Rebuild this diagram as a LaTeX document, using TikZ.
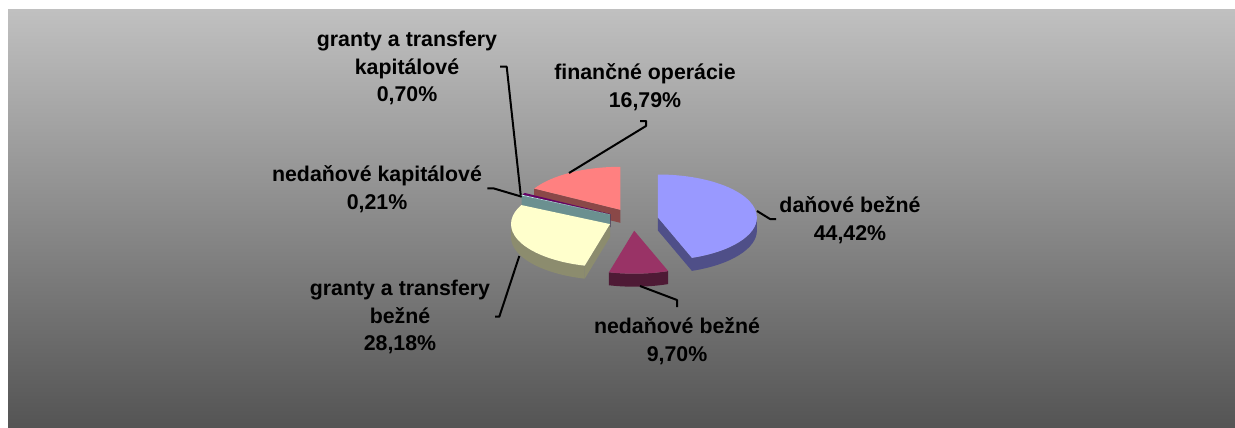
\documentclass[tikz,border=0pt]{standalone}
\usepackage{fontspec}
\setmainfont{Liberation Sans}
\definecolor{bgtop}{HTML}{C0C0C0}
\definecolor{bgbot}{HTML}{545454}
\definecolor{dantop}{HTML}{9999FF}
\definecolor{danside}{HTML}{4F4F88}
\definecolor{nbeztop}{HTML}{993366}
\definecolor{nbezside}{HTML}{4E1A35}
\definecolor{gbeztop}{HTML}{FFFFCC}
\definecolor{gbezside}{HTML}{8C8C6E}
\definecolor{nkaptop}{HTML}{CCFFFF}
\definecolor{nkapside}{HTML}{6B9090}
\definecolor{gkaptop}{HTML}{660066}
\definecolor{gkapside}{HTML}{330033}
\definecolor{fintop}{HTML}{FF8080}
\definecolor{finside}{HTML}{8A4848}
\begin{document}
\begin{tikzpicture}[x=0.75pt,y=-0.75pt,
  lbl/.style={font=\bfseries\fontsize{16}{20.6}\selectfont,align=center,inner sep=0pt},
  leader/.style={line width=1.5pt,line join=round}]
\useasboundingbox (0,0) rectangle (1235,428);
\shade[top color=bgtop,bottom color=bgbot] (8,10) rectangle (1235,428);

% finančné operácie
\begin{scope}[shift={(620.3,209.8)}]
 \fill[color=finside] (0,0) -- (209.6:99 and 43) -- ++(0,13) -- (0,13) -- cycle;
 \fill[color=fintop] (0,0) -- (209.6:99 and 43) arc[start angle=209.6,end angle=270,x radius=99,y radius=43] -- cycle;
\end{scope}
% granty a transfery kapitálové
\begin{scope}[shift={(610.7,214.2)}]
 \fill[color=gkapside] (0,0) -- (207.1:99 and 43) -- ++(0,13) -- (0,13) -- cycle;
 \fill[color=gkaptop] (0,0) -- (207.1:99 and 43) arc[start angle=207.1,end angle=209.6,x radius=99,y radius=43] -- cycle;
\end{scope}
% nedaňové kapitálové
\begin{scope}[shift={(610.4,214.5)}]
 \fill[color=nkapside] (0,0) -- (206.3:99 and 43) -- ++(0,13) -- (0,13) -- cycle;
 \fill[color=nkaptop] (0,0) -- (206.3:99 and 43) arc[start angle=206.3,end angle=207.1,x radius=99,y radius=43] -- cycle;
\end{scope}
% daňové bežné
\begin{scope}[shift={(657.9,217.5)}]
 \fill[color=danside] (0,0) -- (69.9:99 and 43) -- ++(0,13) -- (0,13) -- cycle;
 \fill[color=danside] (0:99 and 43) arc[start angle=0,end angle=69.9,x radius=99,y radius=43] -- ++(0,13) arc[start angle=69.9,end angle=0,x radius=99,y radius=43] -- cycle;
 \fill[color=dantop] (0,0) -- (-90:99 and 43) arc[start angle=-90,end angle=69.9,x radius=99,y radius=43] -- cycle;
\end{scope}
% granty a transfery bežné
\begin{scope}[shift={(610.0,224.1)}]
 \fill[color=gbezside] (0,0) -- (104.8:99 and 43) -- ++(0,13) -- (0,13) -- cycle;
 \fill[color=gbezside] (104.8:99 and 43) arc[start angle=104.8,end angle=180,x radius=99,y radius=43] -- ++(0,13) arc[start angle=180,end angle=104.8,x radius=99,y radius=43] -- cycle;
 \fill[color=gbeztop] (0,0) -- (104.8:99 and 43) arc[start angle=104.8,end angle=206.3,x radius=99,y radius=43] -- cycle;
\end{scope}
% nedaňové bežné
\begin{scope}[shift={(634.2,230.7)}]
 \fill[color=nbezside] (69.9:99 and 43) arc[start angle=69.9,end angle=104.8,x radius=99,y radius=43] -- ++(0,13) arc[start angle=104.8,end angle=69.9,x radius=99,y radius=43] -- cycle;
 \fill[color=nbeztop] (0,0) -- (69.9:99 and 43) arc[start angle=69.9,end angle=104.8,x radius=99,y radius=43] -- cycle;
\end{scope}

% labels
\node[lbl] (gkap) at (407,68) {granty a transfery\\kapitálové\\0,70\%};
\node[lbl] (fin) at (645,87) {finančné operácie\\16,79\%};
\node[lbl] (dan) at (850,220) {daňové bežné\\44,42\%};
\node[lbl] (nbez) at (677,341) {nedaňové bežné\\9,70\%};
\node[lbl] (nkap) at (377,189) {nedaňové kapitálové\\0,21\%};
\node[lbl] (gbez) at (400,317) {granty a transfery\\bežné\\28,18\%};

% leader lines
\coordinate (gkap-a) at (500,66.7);
\coordinate (gkap-b) at (520.7,195);
\coordinate (fin-a) at (640,121);
\coordinate (fin-b) at (569,173);
\coordinate (dan-a) at (776,219);
\coordinate (dan-b) at (757,211);
\coordinate (nbez-a) at (677,307);
\coordinate (nbez-b) at (640,286);
\coordinate (nkap-a) at (487.3,188.3);
\coordinate (nkap-b) at (521.7,196.7);
\coordinate (gbez-a) at (495,316.7);
\coordinate (gbez-b) at (519.3,256);
\draw[leader] (gkap-a) -- ++(6.7,0) -- (gkap-b);
\draw[leader] (fin-a) -- ++(6,0) -- ++(0,5) -- (fin-b);
\draw[leader] (dan-a) -- ++(-6,0) -- (dan-b);
\draw[leader] (nbez-a) -- ++(0,-7) -- (nbez-b);
\draw[leader] (nkap-a) -- ++(6,0) -- (nkap-b);
\draw[leader] (gbez-a) -- ++(4.3,0) -- (gbez-b);
\end{tikzpicture}
\end{document}
